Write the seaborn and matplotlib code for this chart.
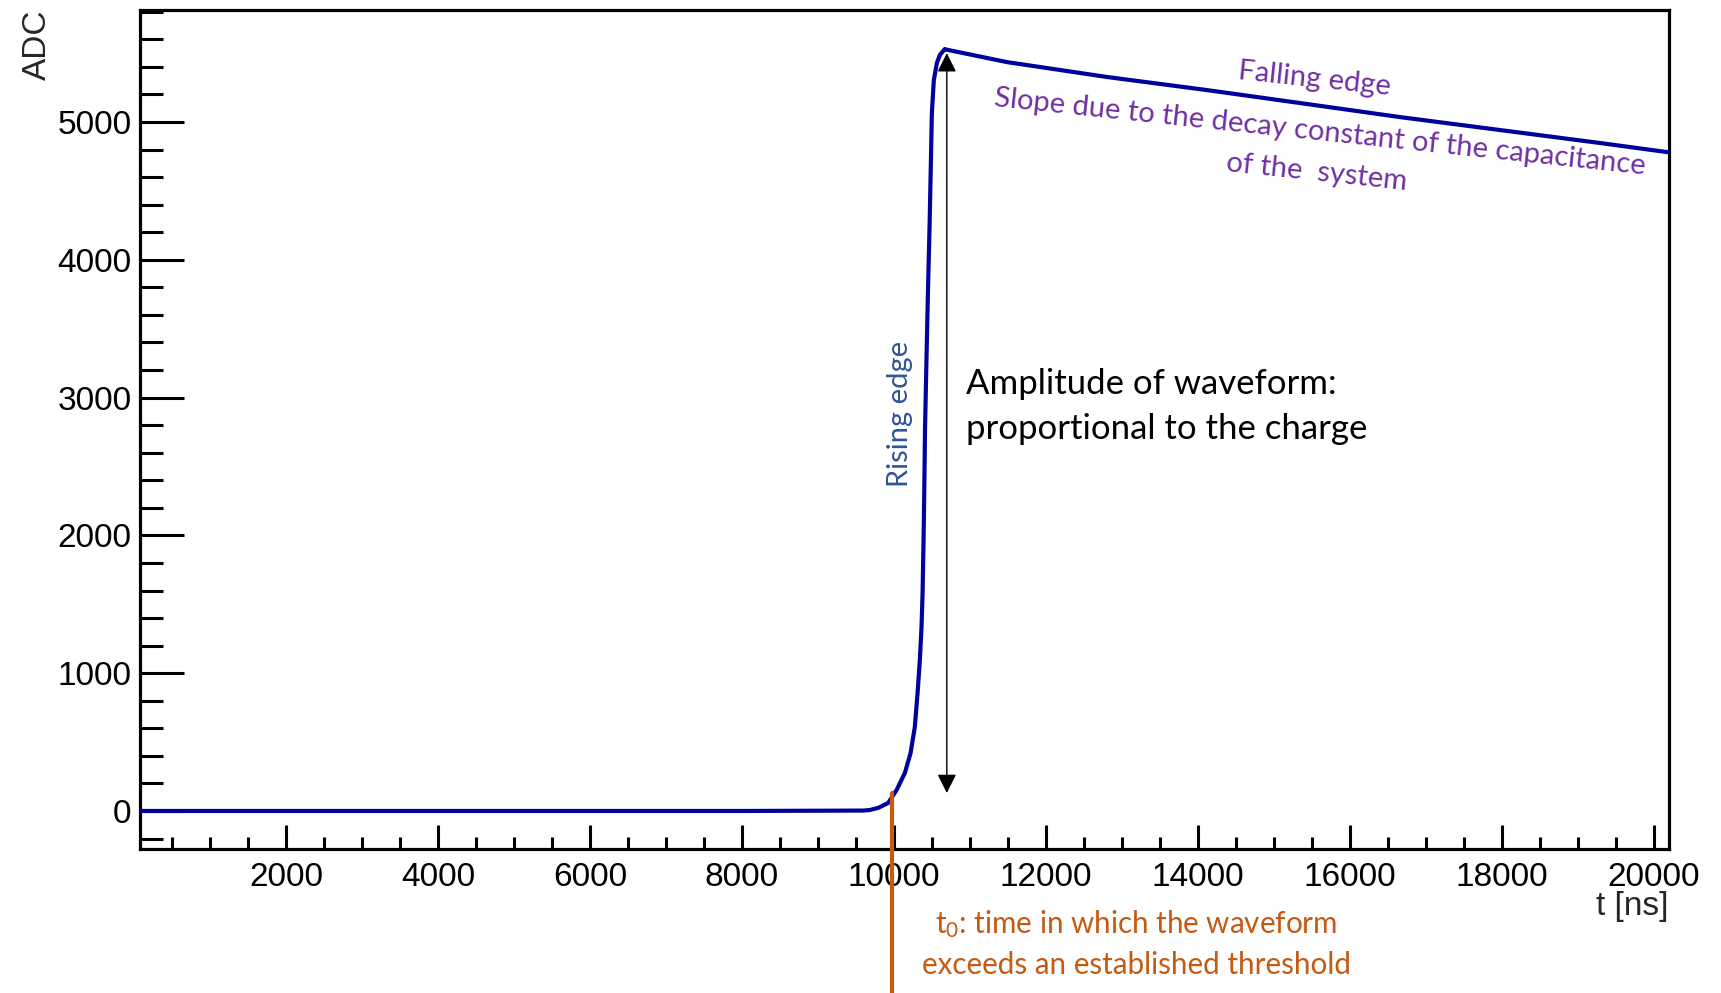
import numpy as np
import pandas as pd
import matplotlib
matplotlib.use("Agg")
import matplotlib.pyplot as plt
import seaborn as sns
from matplotlib.ticker import MultipleLocator

# Waveform (time in ns, ADC counts)
t_ns = [80, 2000, 4000, 6000, 8000, 9600, 9684, 9793, 9925, 10036, 10145,
        10220, 10276, 10312, 10342, 10364, 10378, 10392, 10402, 10410,
        10430, 10447, 10470, 10487, 10500, 10526, 10566, 10605, 10671,
        10697, 11487, 12803, 14118, 15342, 16658, 17974, 19289, 20200]
adc = [0, 0, 0, 0, 0, 3, 7, 22, 58, 152, 276,
       421, 610, 856, 1096, 1335, 1582, 2000, 2400, 2770,
       3300, 3730, 4250, 4700, 5065, 5305, 5428, 5486, 5530,
       5525, 5435, 5327, 5232, 5138, 5036, 4942, 4848, 4780]

t0_ns = 9974           # threshold crossing
t0_adc = 130
amp_top = 5500         # arrow ends
amp_bottom = 130
amp_t = 10697

x_limits = (80, 20200)
y_limits = (-276, 5813)

df = pd.DataFrame({"t": t_ns, "adc": adc})

sns.set_style("ticks")
plt.rcParams["font.family"] = ["Liberation Sans", "DejaVu Sans"]
plt.rcParams["mathtext.fontset"] = "custom"
plt.rcParams["mathtext.rm"] = "Lato"
plt.rcParams["mathtext.it"] = "Lato"

fig = plt.figure(figsize=(17.21, 9.93), dpi=100)
ax = fig.add_axes([140 / 1721, 1 - 849 / 993, 1529 / 1721, 839 / 993])

sns.lineplot(data=df, x="t", y="adc", ax=ax, color="#00009C", lw=3.0,
             estimator=None, sort=False, zorder=3)

ax.set_xlim(*x_limits)
ax.set_ylim(*y_limits)

# ROOT-like frame
for s in ax.spines.values():
    s.set_linewidth(2.3)
    s.set_color("black")
ax.xaxis.set_major_locator(MultipleLocator(2000))
ax.xaxis.set_minor_locator(MultipleLocator(500))
ax.yaxis.set_major_locator(MultipleLocator(1000))
ax.yaxis.set_minor_locator(MultipleLocator(200))
ax.tick_params(axis="both", which="both", direction="in", width=2.2,
               top=False, right=False, labelsize=24, colors="black")
ax.tick_params(axis="y", which="major", length=32, pad=6)
ax.tick_params(axis="y", which="minor", length=16.5)
ax.tick_params(axis="x", which="major", length=17, pad=9)
ax.tick_params(axis="x", which="minor", length=8.5)
xt = [2000, 4000, 6000, 8000, 10000, 12000, 14000, 16000, 18000, 20000]
ax.set_xticks(xt)
ax.set_xticklabels([str(v) for v in xt])

ax.set_xlabel("t [ns]", fontsize=24)
ax.xaxis.set_label_coords(1.0, -0.068)
ax.xaxis.label.set_ha("right")
ax.xaxis.label.set_va("center")
ax.set_ylabel("ADC", fontsize=24)
ax.yaxis.set_label_coords(-0.067, 1.0)
ax.yaxis.label.set_rotation_mode("anchor")
ax.yaxis.label.set_ha("right")
ax.yaxis.label.set_va("center")

# amplitude arrow
ax.annotate("", xy=(amp_t, amp_top), xytext=(amp_t, amp_bottom),
            arrowprops=dict(arrowstyle="<|-|>", color="black", lw=1.0,
                            mutation_scale=29, shrinkA=0, shrinkB=0),
            zorder=4)

# threshold marker, running below the frame
ax.axvline(t0_ns, ymin=-0.172,
           ymax=(t0_adc - y_limits[0]) / (y_limits[1] - y_limits[0]),
           color="#C55A11", lw=3.0, clip_on=False, zorder=5)

txt = dict(family=["Lato", "DejaVu Sans"])
ax.text(10079, 2881, "Rising edge", rotation=90, ha="center", va="center",
        color="#2F5597", fontsize=21, **txt)
ax.text(10947, 3099, "Amplitude of waveform:", ha="left", va="center",
        color="black", fontsize=25, **txt)
ax.text(10947, 2772, "proportional to the charge", ha="left", va="center",
        color="black", fontsize=25, **txt)
ax.text(15539, 5312, "Falling edge", rotation=-6, ha="center", va="center",
        color="#7030A0", fontsize=21, rotation_mode="anchor", **txt)
ax.text(15605, 4927, "Slope due to the decay constant of the capacitance",
        rotation=-6, ha="center", va="center", color="#7030A0", fontsize=21,
        rotation_mode="anchor", **txt)
ax.text(15566, 4630, "of the  system", rotation=-6, ha="center", va="center",
        color="#7030A0", fontsize=21, rotation_mode="anchor", **txt)

fig.text(1136 / 1721, 1 - 924 / 993, "t$_0$: time in which the waveform",
         ha="center", va="center", color="#C55A11", fontsize=21.3, **txt)
fig.text(1136 / 1721, 1 - 965 / 993, "exceeds an established threshold",
         ha="center", va="center", color="#C55A11", fontsize=21.3, **txt)

fig.savefig("out.png", dpi=100)
